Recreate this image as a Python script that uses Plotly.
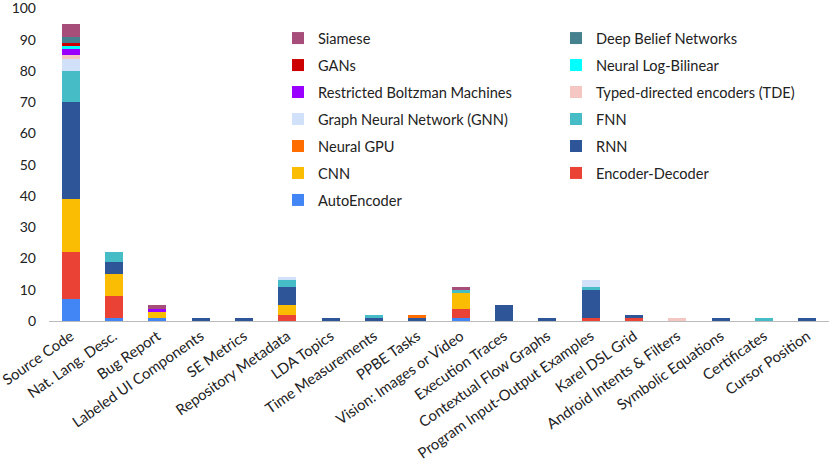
import plotly.graph_objects as go

categories = ["Source Code", "Nat. Lang. Desc.", "Bug Report", "Labeled UI Components", "SE Metrics",
              "Repository Metadata", "LDA Topics", "Time Measurements", "PPBE Tasks", "Vision: Images or Video",
              "Execution Traces", "Contextual Flow Graphs", "Program Input-Output Examples", "Karel DSL Grid",
              "Android Intents & Filters", "Symbolic Equations", "Certificates", "Cursor Position"]

# values per category (same order as categories)
autoencoder     = [7, 1, 1, 0, 0, 0, 0, 0, 0, 1, 0, 0, 0, 0, 0, 0, 0, 0]
encoder_decoder = [15, 7, 0, 0, 0, 2, 0, 0, 0, 3, 0, 0, 1, 1, 0, 0, 0, 0]
cnn             = [17, 7, 2, 0, 0, 3, 0, 0, 0, 5, 0, 0, 0, 0, 0, 0, 0, 0]
rnn             = [31, 4, 0, 1, 1, 6, 1, 1, 1, 0, 5, 1, 9, 1, 0, 1, 0, 1]
neural_gpu      = [0, 0, 0, 0, 0, 0, 0, 0, 1, 0, 0, 0, 0, 0, 0, 0, 0, 0]
fnn             = [10, 3, 0, 0, 0, 2, 0, 1, 0, 1, 0, 0, 1, 0, 0, 0, 1, 0]
gnn             = [4, 0, 0, 0, 0, 1, 0, 0, 0, 0, 0, 0, 2, 0, 0, 0, 0, 0]
tde             = [1, 0, 0, 0, 0, 0, 0, 0, 0, 0, 0, 0, 0, 0, 1, 0, 0, 0]
rbm             = [2, 0, 1, 0, 0, 0, 0, 0, 0, 0, 0, 0, 0, 0, 0, 0, 0, 0]
nlb             = [1, 0, 0, 0, 0, 0, 0, 0, 0, 0, 0, 0, 0, 0, 0, 0, 0, 0]
gans            = [1, 0, 0, 0, 0, 0, 0, 0, 0, 0, 0, 0, 0, 0, 0, 0, 0, 0]
dbn             = [2, 0, 0, 0, 0, 0, 0, 0, 0, 0, 0, 0, 0, 0, 0, 0, 0, 0]
siamese         = [4, 0, 1, 0, 0, 0, 0, 0, 0, 1, 0, 0, 0, 0, 0, 0, 0, 0]

y_ticks = [0, 10, 20, 30, 40, 50, 60, 70, 80, 90, 100]

# (name, values, color, legend column) in stacking order, bottom to top
series = [
    ("AutoEncoder", autoencoder, "#4285F4", "legend"),
    ("Encoder-Decoder", encoder_decoder, "#EA4335", "legend2"),
    ("CNN", cnn, "#FBBC04", "legend"),
    ("RNN", rnn, "#2E5597", "legend2"),
    ("Neural GPU", neural_gpu, "#FF6D01", "legend"),
    ("FNN", fnn, "#46BDC6", "legend2"),
    ("Graph Neural Network (GNN)", gnn, "#D2E1FA", "legend"),
    ("Typed-directed encoders (TDE)", tde, "#F4C7C3", "legend2"),
    ("Restricted Boltzman Machines", rbm, "#9900FF", "legend"),
    ("Neural Log-Bilinear", nlb, "#00FFFF", "legend2"),
    ("GANs", gans, "#CC0000", "legend"),
    ("Deep Belief Networks", dbn, "#45818E", "legend2"),
    ("Siamese", siamese, "#A64D79", "legend"),
]

FONT = "Lato"
fig = go.Figure()
for i, (name, vals, color, leg) in enumerate(series):
    fig.add_trace(go.Bar(
        x=categories, y=vals, name=name, legend=leg, legendgroup=name,
        legendrank=1000 - i,
        marker=dict(color=color, line=dict(width=0)),
    ))

legend_common = dict(
    traceorder="grouped", tracegroupgap=5, bgcolor="rgba(0,0,0,0)",
    font=dict(family=FONT, size=14.6, color="#222222"),
    itemwidth=30, xref="paper", yref="paper",
    xanchor="left", yanchor="top",
)

fig.update_layout(
    barmode="stack",
    bargap=0.585,
    width=831, height=468,
    margin=dict(l=49, r=2, t=7, b=147, autoexpand=False),
    plot_bgcolor="white", paper_bgcolor="white",
    font=dict(family=FONT, size=14, color="#222222"),
    showlegend=True,
    legend=dict(x=0.2936, y=0.952, **legend_common),
    legend2=dict(x=0.65, y=0.952, **legend_common),
    xaxis=dict(tickangle=-35, showgrid=False, showline=True, linecolor="#BBBBBB",
               linewidth=1, ticks="", tickfont=dict(size=14.8), automargin=False,
               ticklabeloverflow="allow"),
    yaxis=dict(range=[0, 100.5], tickvals=y_ticks, showgrid=False, zeroline=False,
               showline=False, ticks="", tickfont=dict(size=14), automargin=False,
               ticklabelstandoff=12, ticklabeloverflow="allow"),
)

fig.write_html("out.html", post_script="document.body.style.margin='0';",
               config={"displayModeBar": False})
